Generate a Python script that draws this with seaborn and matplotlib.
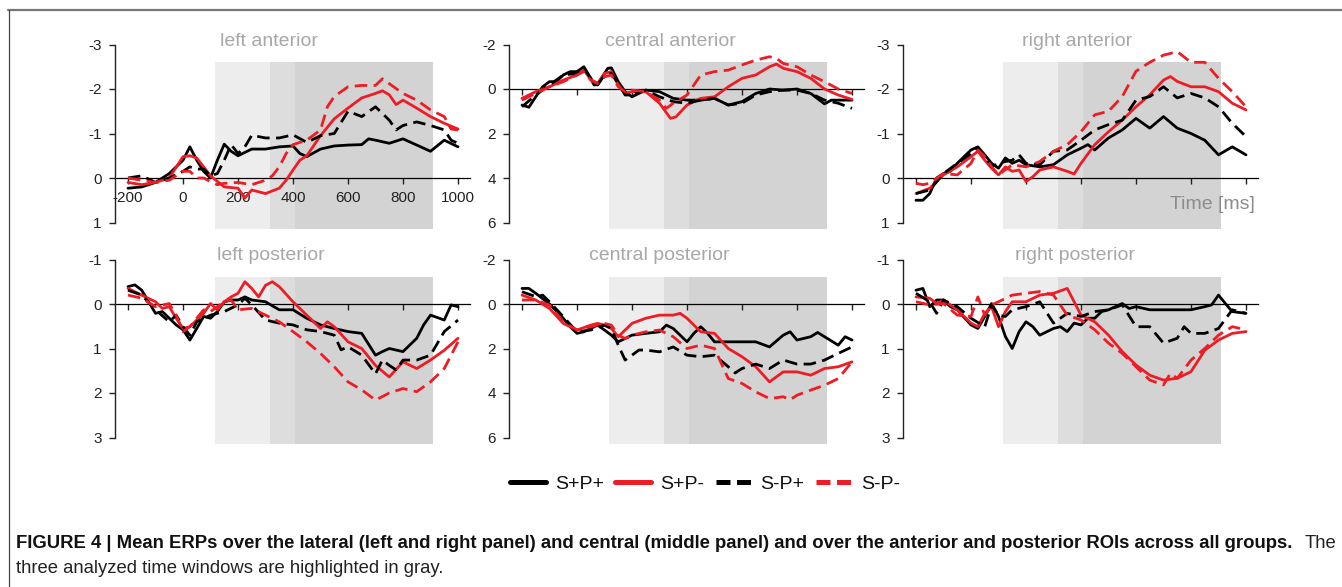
import matplotlib
matplotlib.use("Agg")
import matplotlib.pyplot as plt
from matplotlib.lines import Line2D
import pandas as pd
import seaborn as sns

sns.set_style("white")
plt.rcParams['font.family'] = ['Liberation Sans', 'DejaVu Sans']

# ---------------- data (time ms, amplitude microV) ----------------
CONDS = ["S+P+", "S+P-", "S-P+", "S-P-"]
PANEL_TITLES = ["left anterior", "central anterior", "right anterior",
                "left posterior", "central posterior", "right posterior"]
XTICKS = [-200, 0, 200, 400, 600, 800, 1000]
YTICKS_LAT_TOP = [-3, -2, -1, 0, 1]
YTICKS_CEN = [-2, 0, 2, 4, 6]
YTICKS_LAT_BOT = [-1, 0, 1, 2, 3]
WINDOWS = [(116, 315), (315, 408), (408, 909)]

LA_SPP = [(-200,0.23),(-150,0.2),(-100,0.1),(-50,-0.1),(0,-0.4),(25,-0.7),(50,-0.4),(75,-0.15),(100,0.0),(125,-0.4),(150,-0.76),(175,-0.6),(200,-0.5),(250,-0.65),(300,-0.65),(350,-0.7),(400,-0.72),(425,-0.55),(450,-0.48),(500,-0.65),(550,-0.72),(600,-0.74),(650,-0.75),(675,-0.88),(700,-0.85),(750,-0.78),(800,-0.88),(850,-0.74),(900,-0.6),(950,-0.85),(1000,-0.7)]
LA_SPM = [(-200,0.1),(-150,0.15),(-100,0.1),(-50,0.0),(0,-0.48),(25,-0.5),(50,-0.45),(75,-0.25),(100,-0.05),(150,0.2),(200,0.23),(225,0.45),(250,0.27),(300,0.35),(350,0.23),(375,0.05),(400,-0.18),(425,-0.4),(450,-0.5),(500,-0.95),(550,-1.33),(600,-1.57),(650,-1.8),(700,-1.9),(725,-1.96),(750,-1.87),(775,-1.65),(800,-1.75),(850,-1.57),(900,-1.38),(950,-1.23),(1000,-1.1)]
LA_SMP = [(-200,0.0),(-150,-0.05),(-100,0.1),(-50,0.0),(0,-0.15),(25,-0.25),(50,-0.2),(75,-0.2),(100,-0.05),(125,-0.1),(150,-0.4),(175,-0.75),(200,-0.55),(225,-0.7),(250,-0.96),(300,-0.9),(350,-0.9),(400,-0.97),(450,-0.8),(500,-0.95),(550,-1.0),(600,-1.5),(650,-1.38),(700,-1.6),(750,-1.3),(775,-1.08),(800,-1.18),(850,-1.26),(900,-1.18),(950,-1.08),(975,-0.85),(1000,-0.78)]
LA_SMM = [(-200,0.0),(-150,0.05),(-100,0.1),(-50,0.05),(0,-0.15),(25,-0.15),(50,0.0),(75,0.0),(100,0.08),(125,0.15),(150,0.12),(200,0.1),(250,0.15),(300,0.05),(325,-0.05),(350,-0.25),(375,-0.55),(400,-0.75),(450,-0.85),(500,-1.08),(525,-1.6),(550,-1.83),(600,-2.05),(650,-2.08),(700,-2.08),(725,-2.23),(750,-2.12),(800,-1.9),(850,-1.75),(900,-1.53),(950,-1.38),(975,-1.1),(1000,-1.08)]

CA_SPP = [(-200,0.72),(-175,0.82),(-150,0.35),(-125,-0.1),(-100,-0.33),(-75,-0.33),(-50,-0.63),(-25,-0.78),(0,-0.78),(25,-1.0),(50,-0.48),(62,-0.18),(75,-0.2),(100,-0.7),(112,-0.93),(125,-0.95),(150,-0.33),(175,0.12),(200,0.35),(225,0.2),(250,0.05),(300,0.12),(350,0.42),(400,0.5),(450,0.5),(500,0.42),(550,0.72),(600,0.57),(650,0.2),(700,0.0),(750,0.05),(800,0.0),(850,0.2),(900,0.67),(925,0.5),(950,0.5),(1000,0.5)]
CA_SPM = [(-200,0.42),(-150,0.12),(-100,-0.1),(-50,-0.4),(0,-0.63),(25,-0.85),(50,-0.43),(75,-0.25),(100,-0.7),(125,-0.78),(150,-0.18),(175,0.2),(200,0.12),(250,0.12),(300,0.64),(340,1.32),(360,1.25),(400,0.72),(450,0.42),(500,0.35),(550,-0.1),(600,-0.48),(650,-0.63),(700,-1.0),(725,-1.12),(750,-0.93),(800,-0.78),(850,-0.48),(900,0.0),(950,0.27),(1000,0.47)]
CA_SMP = [(-200,0.8),(-150,0.27),(-100,-0.18),(-50,-0.63),(0,-0.7),(25,-0.93),(50,-0.48),(75,-0.18),(100,-0.63),(125,-0.7),(150,-0.25),(175,0.27),(200,0.27),(250,0.05),(300,0.35),(350,0.57),(400,0.64),(450,0.5),(500,0.42),(550,0.72),(600,0.64),(650,0.27),(700,0.12),(750,0.05),(800,0.05),(850,0.2),(900,0.5),(950,0.64),(1000,0.87)]
CA_SMM = [(-200,0.5),(-150,0.2),(-100,-0.1),(-50,-0.33),(0,-0.63),(25,-0.78),(50,-0.4),(75,-0.25),(100,-0.55),(125,-0.63),(150,-0.1),(175,0.12),(200,0.05),(250,0.12),(300,0.5),(325,0.87),(350,0.64),(400,0.27),(450,-0.63),(500,-0.78),(550,-0.85),(600,-1.08),(650,-1.3),(700,-1.45),(725,-1.38),(750,-1.15),(800,-1.0),(850,-0.63),(900,-0.33),(950,0.0),(1000,0.2)]

RA_SPP = [(-200,0.5),(-175,0.5),(-150,0.35),(-125,0.0),(-100,-0.1),(-75,-0.15),(-50,-0.33),(0,-0.63),(25,-0.7),(50,-0.52),(75,-0.33),(100,-0.22),(125,-0.45),(150,-0.33),(175,-0.4),(200,-0.3),(250,-0.25),(300,-0.3),(350,-0.52),(400,-0.67),(425,-0.75),(450,-0.63),(500,-0.9),(550,-1.08),(600,-1.34),(650,-1.12),(700,-1.38),(750,-1.12),(800,-1.0),(850,-0.85),(900,-0.52),(950,-0.7),(1000,-0.52)]
RA_SPM = [(-200,0.35),(-150,0.23),(-100,-0.07),(-50,-0.25),(0,-0.48),(25,-0.6),(50,-0.4),(75,-0.22),(100,-0.07),(125,-0.25),(150,-0.15),(175,-0.18),(200,0.08),(225,-0.03),(250,-0.18),(300,-0.25),(350,-0.15),(375,-0.09),(400,-0.33),(450,-0.75),(500,-1.04),(550,-1.3),(600,-1.6),(650,-1.87),(700,-2.2),(725,-2.28),(750,-2.17),(800,-2.05),(850,-2.05),(900,-1.94),(950,-1.68),(1000,-1.53)]
RA_SMP = [(-200,0.35),(-150,0.27),(-100,-0.1),(-50,-0.33),(0,-0.55),(25,-0.67),(50,-0.48),(75,-0.25),(100,-0.33),(125,-0.37),(150,-0.4),(175,-0.52),(200,-0.33),(250,-0.3),(300,-0.6),(350,-0.63),(400,-0.85),(450,-1.08),(500,-1.2),(550,-1.3),(600,-1.75),(650,-1.83),(700,-2.05),(750,-1.8),(800,-1.9),(850,-1.8),(900,-1.6),(950,-1.23),(1000,-0.93)]
RA_SMM = [(-200,0.12),(-175,0.15),(-150,0.12),(-100,-0.1),(-50,-0.07),(0,-0.33),(25,-0.63),(50,-0.48),(75,-0.25),(100,-0.07),(150,-0.3),(200,-0.25),(250,-0.37),(300,-0.6),(350,-0.75),(400,-1.04),(450,-1.42),(500,-1.5),(550,-1.83),(600,-2.4),(650,-2.6),(700,-2.76),(750,-2.84),(800,-2.6),(850,-2.6),(900,-2.24),(950,-1.94),(1000,-1.6)]

LP_SPP = [(-200,-0.39),(-175,-0.43),(-150,-0.31),(-125,-0.05),(-100,0.21),(-75,0.17),(-50,0.32),(-25,0.47),(0,0.58),(25,0.81),(50,0.55),(75,0.28),(100,0.32),(125,0.17),(150,-0.05),(175,-0.09),(200,-0.09),(225,-0.16),(250,-0.09),(300,-0.05),(350,0.13),(400,0.13),(450,0.32),(500,0.47),(550,0.55),(600,0.62),(650,0.66),(700,1.15),(725,1.07),(750,1.0),(800,1.07),(850,0.77),(875,0.47),(900,0.25),(950,0.36),(975,0.02),(1000,0.06)]
LP_SPM = [(-200,-0.35),(-150,-0.2),(-100,-0.05),(-75,0.1),(-50,0.06),(-25,0.32),(0,0.55),(25,0.51),(50,0.36),(75,0.21),(100,-0.01),(125,0.13),(150,-0.05),(175,-0.16),(200,-0.24),(225,-0.5),(250,-0.35),(275,-0.16),(300,-0.42),(325,-0.5),(350,-0.39),(400,-0.05),(450,0.25),(500,0.55),(525,0.4),(550,0.51),(600,0.85),(650,1.0),(700,1.38),(750,1.64),(800,1.3),(850,1.45),(900,1.26),(950,1.04),(1000,0.77)]
LP_SMP = [(-200,-0.31),(-150,-0.2),(-100,0.13),(-50,0.4),(-25,0.25),(0,0.51),(25,0.7),(50,0.4),(100,0.25),(150,0.17),(200,0.02),(225,-0.13),(250,0.02),(300,0.36),(350,0.43),(400,0.47),(450,0.58),(500,0.62),(550,0.7),(575,1.03),(600,0.96),(650,1.15),(700,1.57),(725,1.26),(750,1.38),(775,1.48),(800,1.26),(850,1.26),(900,1.15),(950,0.62),(1000,0.36)]
LP_SMM = [(-200,-0.2),(-150,-0.13),(-100,0.06),(-50,-0.01),(-25,0.25),(0,0.62),(25,0.51),(50,0.32),(75,0.13),(100,0.17),(125,0.06),(150,-0.05),(175,-0.09),(200,0.13),(250,0.1),(300,0.25),(350,0.4),(400,0.62),(450,0.85),(500,1.11),(550,1.41),(600,1.75),(650,1.93),(700,2.16),(750,2.0),(800,1.9),(850,1.97),(900,1.75),(950,1.45),(1000,0.85)]

CP_SPP = [(-200,-0.7),(-175,-0.7),(-150,-0.48),(-100,0.0),(-50,0.64),(-25,1.02),(0,1.32),(25,1.25),(50,1.1),(75,0.95),(100,1.17),(125,1.4),(150,1.7),(200,1.4),(250,1.32),(300,1.25),(325,0.95),(350,1.1),(400,1.7),(425,1.32),(450,1.02),(475,1.32),(500,1.7),(550,1.7),(600,1.7),(650,1.7),(700,1.93),(750,1.4),(775,1.25),(800,1.62),(850,1.47),(875,1.28),(900,1.47),(950,1.85),(975,1.47),(1000,1.62)]
CP_SPM = [(-200,-0.4),(-150,-0.18),(-100,0.2),(-50,0.87),(0,1.17),(50,0.95),(75,0.87),(100,0.95),(125,1.1),(150,1.47),(175,1.17),(200,0.87),(250,0.64),(300,0.5),(350,0.5),(375,0.42),(400,0.64),(450,1.25),(500,1.32),(550,2.0),(600,2.37),(650,2.82),(700,3.5),(750,3.05),(800,3.05),(850,3.2),(900,2.9),(950,2.82),(1000,2.6)]
CP_SMP = [(-200,-0.55),(-150,-0.33),(-125,-0.4),(-100,-0.1),(-50,0.57),(0,1.25),(50,1.17),(100,0.95),(125,1.1),(150,1.85),(175,2.52),(200,2.3),(225,2.07),(250,2.07),(300,2.15),(350,1.93),(400,2.3),(450,2.37),(500,2.3),(550,2.82),(575,3.1),(600,2.9),(650,2.7),(700,2.9),(750,2.52),(800,2.7),(850,2.7),(900,2.52),(950,2.22),(1000,1.93)]
CP_SMM = [(-200,-0.18),(-150,-0.18),(-100,0.05),(-50,0.8),(0,1.17),(50,1.02),(100,0.87),(125,0.95),(150,1.4),(175,1.55),(200,1.4),(250,1.25),(300,1.17),(350,1.47),(400,2.0),(450,1.85),(500,2.0),(550,3.35),(600,3.57),(650,3.95),(700,4.25),(750,4.17),(775,4.3),(800,4.1),(850,3.87),(900,3.65),(950,3.35),(1000,2.6)]

RP_SPP = [(-200,-0.31),(-175,-0.35),(-150,0.06),(-125,-0.09),(-100,-0.09),(-75,0.06),(-50,0.13),(0,0.47),(25,0.55),(50,0.28),(75,-0.01),(100,0.28),(125,0.73),(150,1.0),(175,0.62),(200,0.4),(225,0.51),(250,0.7),(300,0.55),(325,0.51),(350,0.62),(375,0.43),(400,0.47),(425,0.32),(450,0.32),(475,0.17),(500,0.13),(550,-0.01),(575,0.1),(600,0.06),(650,0.13),(700,0.13),(750,0.13),(800,0.13),(850,0.06),(875,0.02),(900,-0.2),(925,-0.01),(950,0.17),(1000,0.21)]
RP_SPM = [(-200,-0.16),(-150,-0.13),(-125,-0.01),(-100,-0.09),(-50,0.13),(0,0.43),(25,0.51),(50,0.21),(75,0.06),(100,0.51),(125,0.17),(150,-0.05),(200,-0.05),(250,-0.2),(300,-0.24),(350,-0.35),(400,0.25),(450,0.4),(500,0.7),(550,1.07),(600,1.37),(650,1.6),(700,1.71),(750,1.67),(800,1.52),(850,1.04),(900,0.81),(950,0.66),(1000,0.62)]
RP_SMP = [(-200,-0.24),(-150,-0.05),(-125,0.21),(-100,-0.09),(-50,0.06),(0,0.32),(50,0.51),(75,0.02),(100,0.25),(125,0.28),(150,0.13),(200,0.06),(250,-0.05),(300,0.43),(350,0.21),(400,0.28),(450,0.17),(500,0.13),(550,0.02),(600,0.51),(650,0.51),(700,0.88),(750,0.77),(775,0.51),(800,0.66),(850,0.66),(900,0.55),(950,0.13),(1000,0.21)]
RP_SMM = [(-200,-0.05),(-150,0.02),(-100,-0.01),(-50,0.25),(0,0.28),(25,-0.16),(50,0.25),(75,0.02),(100,-0.05),(150,-0.2),(200,-0.24),(250,-0.28),(300,-0.2),(350,0.25),(400,0.36),(450,0.58),(500,0.88),(550,1.11),(600,1.41),(650,1.71),(700,1.82),(725,1.56),(750,1.67),(800,1.26),(850,1.0),(900,0.7),(950,0.51),(1000,0.58)]

PANEL_DATA = [
    [LA_SPP, LA_SPM, LA_SMP, LA_SMM],
    [CA_SPP, CA_SPM, CA_SMP, CA_SMM],
    [RA_SPP, RA_SPM, RA_SMP, RA_SMM],
    [LP_SPP, LP_SPM, LP_SMP, LP_SMM],
    [CP_SPP, CP_SPM, CP_SMP, CP_SMM],
    [RP_SPP, RP_SPM, RP_SMP, RP_SMM],
]

# ---------------- styling ----------------
RED = "#ee1c24"
PALETTE = {"S+P+": "black", "S+P-": RED, "S-P+": "black", "S-P-": RED}
DASHES = {"S+P+": "", "S+P-": "", "S-P+": (4.5, 2.3), "S-P-": (4.5, 2.3)}
SHADES = ["#ededed", "#dddddd", "#d3d3d3"]

W, H = 1342, 587
fig = plt.figure(figsize=(W / 100, H / 100), dpi=100)

COL_X = [115, 509, 903]
ROW_Y = [40, 255]
AX_W, AX_H = 355, 192
PX_PER_MS = 0.275
T_LEFT = -200 - 13 / PX_PER_MS
T_RIGHT = T_LEFT + AX_W / PX_PER_MS

for i in range(6):
    r, c = divmod(i, 3)
    x0, y0 = COL_X[c], ROW_Y[r]
    ax = fig.add_axes([x0 / W, 1 - (y0 + AX_H) / H, AX_W / W, AX_H / H])
    if c == 1:
        yt, ppu = YTICKS_CEN, 22.25
    else:
        yt, ppu = (YTICKS_LAT_TOP if r == 0 else YTICKS_LAT_BOT), 44.5
    zero_px = [178, 89, 178][c] if r == 0 else 304
    v_top = (y0 - zero_px) / ppu
    v_bot = (y0 + AX_H - zero_px) / ppu

    for (a, b), col in zip(WINDOWS, SHADES):
        ax.axvspan(a, b, ymin=3 / AX_H, ymax=(AX_H - 22) / AX_H, color=col, lw=0, zorder=0)

    rows = []
    for cond, series in zip(CONDS, PANEL_DATA[i]):
        for t, v in series:
            rows.append({"t": t, "v": v, "cond": cond})
    df = pd.DataFrame(rows)
    sns.lineplot(data=df, x="t", y="v", hue="cond", style="cond", hue_order=CONDS,
                 style_order=CONDS, palette=PALETTE, dashes=DASHES, estimator=None,
                 sort=False, linewidth=2.0, legend=False, ax=ax, zorder=3)

    ax.set_xlim(T_LEFT, T_RIGHT)
    ax.set_ylim(v_bot, v_top)
    ax.set_xlabel("")
    ax.set_ylabel("")
    for s in ["top", "right"]:
        ax.spines[s].set_visible(False)
    ax.spines["bottom"].set_position(("data", 0))
    ax.spines["bottom"].set_color("black")
    ax.spines["bottom"].set_linewidth(0.9)
    ax.spines["bottom"].set_zorder(2)
    ax.spines["left"].set_color("#222222")
    ax.spines["left"].set_linewidth(1.0)
    ax.spines["left"].set_bounds(yt[0], yt[-1])
    ax.set_yticks(yt)
    ax.set_yticklabels([str(v) for v in yt])
    ax.set_xticks(XTICKS)
    if i == 0:
        ax.set_xticklabels([str(v) for v in XTICKS])
    else:
        ax.set_xticklabels([])
    ax.tick_params(axis="both", direction="out", length=4.5, width=1.0, color="#222222",
                   labelsize=11, labelcolor="#222222", bottom=True, left=True)
    ax.tick_params(axis="y", pad=5)
    ax.tick_params(axis="x", pad=5)
    ax.patch.set_alpha(0)

TITLE_POS = [(269, 45.5), (670, 45.5), (1077, 45.5), (271, 259.5), (659, 259.5), (1075, 259.5)]
for title, (tx, ty) in zip(PANEL_TITLES, TITLE_POS):
    fig.text(tx / W, 1 - ty / H, title, ha="center", va="baseline", fontsize=14, color="#a8a8a8")

fig.text(1255 / W, 1 - 209 / H, "Time [ms]", ha="right", va="baseline", fontsize=14, color="#8c8c8c")

# legend
handles = [Line2D([], [], color=PALETTE[c], lw=3.6,
                  linestyle="-" if DASHES[c] == "" else (0, (2.8, 1.3))) for c in CONDS]
fig.legend(handles, CONDS, loc="center", bbox_to_anchor=(705 / W, 1 - 484 / H), ncol=4,
           frameon=False, fontsize=14, handlelength=1.85, handletextpad=0.45,
           columnspacing=0.6, labelcolor="#111111")

# caption
CAP_SIZE = 13.3
fig.text(16 / W, 1 - 548 / H,
         "FIGURE 4 | Mean ERPs over the lateral (left and right panel) and central (middle panel) "
         "and over the anterior and posterior ROIs across all groups.",
         ha="left", va="baseline", fontsize=CAP_SIZE, fontweight="bold", color="#111111")
fig.text(1336 / W, 1 - 548 / H, "The", ha="right", va="baseline", fontsize=CAP_SIZE, color="#222222")
fig.text(16 / W, 1 - 573 / H, "three analyzed time windows are highlighted in gray.",
         ha="left", va="baseline", fontsize=CAP_SIZE, color="#222222")

# frame lines
fig.add_artist(Line2D([8 / W, 1], [1 - 9.5 / H, 1 - 9.5 / H], transform=fig.transFigure,
                      color="#777777", lw=1.6))
fig.add_artist(Line2D([8.5 / W, 8.5 / W], [1 - 9.5 / H, 0], transform=fig.transFigure,
                      color="#444444", lw=0.9))

fig.savefig("out.png", dpi=100)
